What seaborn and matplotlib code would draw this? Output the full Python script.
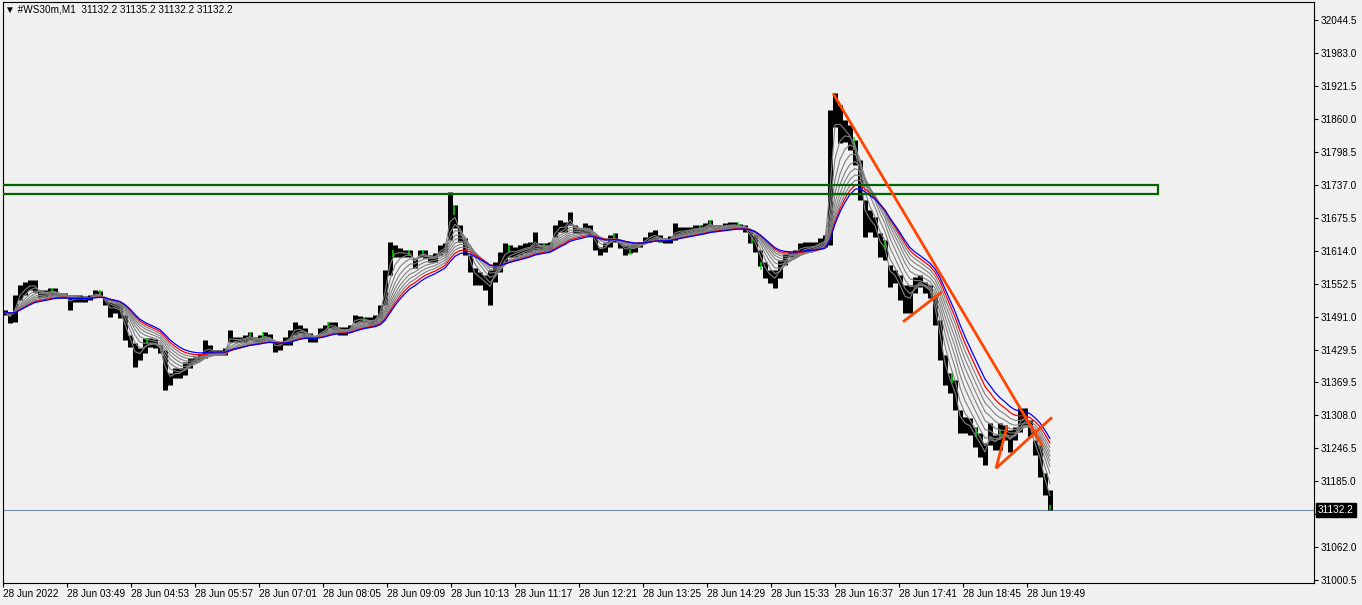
import numpy as np
import pandas as pd
import matplotlib
matplotlib.use("Agg")
import matplotlib.pyplot as plt
import matplotlib.transforms as mtransforms
from matplotlib.patches import Rectangle
import seaborn as sns

# ---------------- data ----------------
symbol = "#WS30m,M1"
last_ohlc = [31132.2, 31135.2, 31132.2, 31132.2]
session_start = "02:45"
group_minutes = 5          # each value below summarises 5 one-minute bars

highs = [31504, 31500, 31532, 31551, 31556, 31560, 31560, 31541, 31541, 31545,
         31545, 31536, 31536, 31532, 31532, 31532, 31530, 31532, 31541, 31539,
         31526, 31519, 31517, 31517, 31495, 31458, 31443, 31433, 31452, 31452,
         31450, 31439, 31430, 31387, 31396, 31396, 31407, 31415, 31417, 31422,
         31448, 31439, 31430, 31430, 31433, 31467, 31454, 31454, 31458, 31463,
         31454, 31458, 31463, 31459, 31444, 31444, 31454, 31467, 31482, 31476,
         31471, 31461, 31454, 31471, 31476, 31482, 31482, 31472, 31472, 31476,
         31495, 31493, 31491, 31491, 31495, 31513, 31579, 31631, 31625, 31620,
         31616, 31616, 31601, 31616, 31616, 31607, 31610, 31625, 31629, 31724,
         31700, 31663, 31638, 31607, 31582, 31575, 31569, 31579, 31594, 31612,
         31629, 31625, 31622, 31625, 31629, 31631, 31649, 31629, 31629, 31631,
         31663, 31672, 31668, 31687, 31663, 31657, 31666, 31663, 31644, 31622,
         31629, 31644, 31648, 31631, 31625, 31625, 31627, 31631, 31640, 31649,
         31653, 31644, 31638, 31642, 31666, 31659, 31659, 31659, 31663, 31663,
         31666, 31672, 31663, 31663, 31666, 31668, 31668, 31664, 31663, 31653,
         31644, 31616, 31594, 31579, 31579, 31597, 31608, 31612, 31616, 31629,
         31631, 31631, 31631, 31638, 31644, 31877, 31908, 31886, 31858, 31849,
         31821, 31784, 31709, 31690, 31677, 31648, 31635, 31588, 31579, 31569,
         31551, 31551, 31566, 31569, 31556, 31551, 31528, 31485, 31420, 31387,
         31374, 31318, 31305, 31303, 31286, 31275, 31256, 31294, 31271, 31294,
         31290, 31281, 31286, 31322, 31322, 31299, 31262, 31253, 31200, 31169]

lows = [31495, 31480, 31482, 31523, 31532, 31541, 31538, 31528, 31528, 31530,
        31532, 31526, 31526, 31504, 31519, 31519, 31519, 31523, 31528, 31528,
        31513, 31491, 31499, 31489, 31448, 31435, 31398, 31411, 31424, 31435,
        31433, 31424, 31355, 31364, 31377, 31377, 31383, 31396, 31407, 31411,
        31415, 31424, 31420, 31420, 31420, 31444, 31444, 31444, 31444, 31448,
        31444, 31444, 31448, 31444, 31426, 31430, 31439, 31439, 31458, 31461,
        31454, 31444, 31444, 31454, 31458, 31471, 31467, 31458, 31458, 31463,
        31480, 31482, 31482, 31476, 31476, 31489, 31513, 31569, 31603, 31603,
        31603, 31603, 31582, 31603, 31601, 31594, 31594, 31607, 31612, 31635,
        31657, 31631, 31607, 31575, 31551, 31551, 31541, 31513, 31556, 31575,
        31594, 31603, 31603, 31607, 31610, 31612, 31616, 31616, 31616, 31616,
        31640, 31649, 31649, 31663, 31648, 31648, 31648, 31644, 31616, 31607,
        31612, 31622, 31631, 31620, 31607, 31610, 31612, 31622, 31629, 31633,
        31635, 31631, 31629, 31629, 31635, 31644, 31644, 31648, 31649, 31649,
        31653, 31659, 31653, 31653, 31657, 31657, 31657, 31655, 31649, 31629,
        31612, 31586, 31564, 31554, 31545, 31564, 31588, 31603, 31603, 31610,
        31612, 31612, 31616, 31620, 31622, 31625, 31845, 31815, 31817, 31802,
        31774, 31709, 31640, 31649, 31640, 31603, 31597, 31547, 31554, 31523,
        31499, 31499, 31536, 31547, 31536, 31526, 31476, 31411, 31364, 31349,
        31318, 31275, 31275, 31271, 31249, 31230, 31215, 31252, 31243, 31243,
        31262, 31240, 31262, 31277, 31290, 31267, 31234, 31193, 31159, 31132.2]

# one-minute bars drawn in lime: minute offset, high, low
green_minutes = [49, 97, 144, 247, 260, 325, 361, 390, 406, 420, 451, 506, 541,
                 611, 627, 657, 697, 707, 735, 749, 758, 851, 882, 949, 973,
                 997, 1041, 1047]
green_highs = [31545, 31541, 31452, 31463, 31463, 31482, 31491, 31616, 31616,
               31616, 31700, 31625, 31629, 31648, 31616, 31638, 31662, 31672,
               31668, 31640, 31593, 31827, 31635, 31387, 31286, 31280, 31200,
               31141]
green_lows = [31538, 31532, 31443, 31452, 31454, 31471, 31482, 31603, 31605,
              31607, 31681, 31612, 31616, 31635, 31607, 31629, 31653, 31662,
              31659, 31629, 31579, 31802, 31616, 31368, 31267, 31262, 31193,
              31132]

ema_gray_periods = [6, 14, 22, 30, 38, 46, 54, 62]
ema_red_period = 70
ema_blue_period = 78

xtick_times = ["02:45", "03:49", "04:53", "05:57", "07:01", "08:05", "09:09",
               "10:13", "11:17", "12:21", "13:25", "14:29", "15:33", "16:37",
               "17:41", "18:45", "19:49"]
xtick_labels = ["28 Jun 2022"] + ["28 Jun " + t for t in xtick_times[1:]]

ytick_values = [32044.5, 31983.0, 31921.5, 31860.0, 31798.5, 31737.0, 31675.5,
                31614.0, 31552.5, 31491.0, 31429.5, 31369.5, 31308.0, 31246.5,
                31185.0, 31123.5, 31062.0, 31000.5]

zone_low, zone_high = 31720.2, 31737.0
zone_end_time = "22:00"

trend_lines = [  # (time1, price1, time2, price2)
    ("16:35", 31908.0, "20:04", 31252.5),
    ("17:45", 31482.0, "18:24", 31538.0),
    ("19:18", 31209.0, "19:29", 31287.0),
    ("19:18", 31209.0, "20:14", 31304.0),
]

# ---------------- helpers ----------------
def tmin(t):
    h, m = map(int, t.split(":"))
    s_h, s_m = map(int, session_start.split(":"))
    return h * 60 + m - (s_h * 60 + s_m)

n = len(highs)
centers = np.arange(n) * group_minutes + (group_minutes - 1) / 2
hi = np.array(highs, float)
lo = np.array(lows, float)
med = (hi + lo) / 2

def ema(values, period):
    a = 2.0 / (period + 1)
    A = 1 - (1 - a) ** group_minutes
    out = np.empty_like(values)
    out[0] = values[0]
    for i in range(1, len(values)):
        out[i] = out[i - 1] + A * (values[i] - out[i - 1])
    return out

df = pd.DataFrame({"minute": centers, "high": hi, "low": lo, "median": med})

# ---------------- figure ----------------
sns.set_theme(style="white")
plt.rcParams["font.family"] = ["Liberation Sans", "DejaVu Sans"]
BG = "#f0f0f0"
W, H = 1362, 605
fig = plt.figure(figsize=(W / 100, H / 100), dpi=100, facecolor=BG)
left_px, right_px, top_px, bot_px = 2.5, 1314, 2, 583
ax = fig.add_axes([left_px / W, 1 - bot_px / H, (right_px - left_px) / W, (bot_px - top_px) / H])
ax.set_facecolor(BG)

ppx = 61.5 / 33.0
ax.set_xlim(-0.5, 1311)
ax.set_ylim(32044.5 - (bot_px - 20) * ppx, 32044.5 + (20 - top_px) * ppx)

# price bars
ax.vlines(df["minute"], df["low"], df["high"], colors="black",
          linewidth=group_minutes * 0.72, zorder=2)
ax.vlines(green_minutes, green_lows, green_highs, colors="#00e000",
          linewidth=1.1, zorder=2.5)

# moving averages
for p in ema_gray_periods:
    sns.lineplot(x=df["minute"], y=ema(med, p), color="#808080", linewidth=0.8,
                 ax=ax, zorder=3)
sns.lineplot(x=df["minute"], y=ema(med, ema_red_period), color="#ff0000",
             linewidth=0.9, ax=ax, zorder=4)
sns.lineplot(x=df["minute"], y=ema(med, ema_blue_period), color="#0000ff",
             linewidth=0.9, ax=ax, zorder=5)

# zone rectangle
ax.add_patch(Rectangle((-1, zone_low), tmin(zone_end_time) + 1, zone_high - zone_low,
                       fill=False, edgecolor="#006400", linewidth=1.6, zorder=6))

# trend lines
for t1, p1, t2, p2 in trend_lines:
    ax.plot([tmin(t1), tmin(t2)], [p1, p2], color="#ff4500", linewidth=2.0,
            solid_capstyle="butt", zorder=7)

# last price line
ax.axhline(last_ohlc[3], color="#7890a8", linewidth=0.8, zorder=1)

# axes styling
for s in ax.spines.values():
    s.set_color("black")
    s.set_linewidth(0.8)
ax.yaxis.tick_right()
ax.set_yticks(ytick_values)
ax.set_yticklabels([f"{v:.1f}" for v in ytick_values])
ax.set_xticks([tmin(t) for t in xtick_times])
ax.set_xticklabels(xtick_labels, ha="left")
ax.tick_params(axis="y", direction="out", length=3, width=0.8, pad=2,
               labelsize=7.2, colors="black", right=True, left=False)
ax.tick_params(axis="x", direction="out", length=3, width=0.8, pad=1.5,
               labelsize=7.2, colors="black", bottom=True)
ax.set_xlabel("")
ax.set_ylabel("")

# last price marker on the scale
trans = mtransforms.blended_transform_factory(ax.transAxes, ax.transData)
ax.text(1.0 + 4 / (right_px - left_px), last_ohlc[3], f"{last_ohlc[3]:.1f}",
        transform=trans, color="white", fontsize=7.2, va="center", ha="left",
        bbox=dict(boxstyle="square,pad=0.2", facecolor="black", edgecolor="black"),
        zorder=20, clip_on=False)

# title
fig.text(5 / W, 1 - 10 / H,
         "\u25bc " + symbol + "  " + " ".join(f"{v:.1f}" for v in last_ohlc),
         fontsize=7.2, va="center", ha="left", color="black",
         family=["Liberation Sans", "DejaVu Sans"])

fig.savefig("out.png", dpi=100, facecolor=BG)
